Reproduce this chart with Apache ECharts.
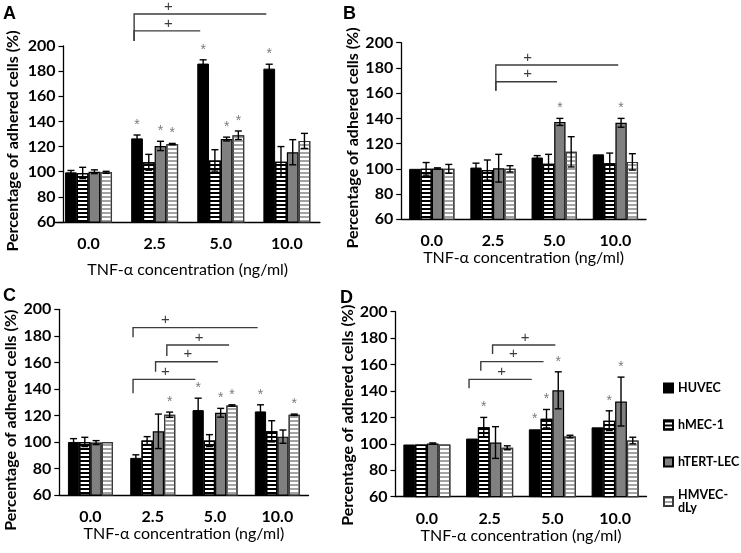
<!DOCTYPE html>
<html><head><meta charset="utf-8">
<script src="https://cdn.jsdelivr.net/npm/echarts@6/dist/echarts.min.js"></script>
<style>html,body{margin:0;padding:0;background:#fff}#c{width:741px;height:553px}</style>
</head><body><div id="c"></div>
<script>
// ---------- DATA ----------
const categories = ['0.0', '2.5', '5.0', '10.0'];
const seriesNames = ['HUVEC', 'hMEC-1', 'hTERT-LEC', 'HMVEC-dLy'];
const yMin = 60, yMax = 200, yStep = 20;
const panelLetters = ['A', 'B', 'C', 'D'];

// rows: HUVEC, hMEC-1, hTERT-LEC, HMVEC-dLy ; columns: categories
const A_means = [[99.5, 126.5, 186, 182], [99, 107.5, 109, 108], [100, 120.5, 126, 115.5], [99.5, 122, 129, 124.5]];
const A_errs  = [[1.5, 2.7, 3, 3.5], [4.5, 6.3, 8.5, 12], [1.5, 3.7, 1.5, 10], [0.8, 0.5, 3.4, 6]];
const A_stars = [[0, 1, 1, 1], [0, 0, 0, 0], [0, 1, 1, 0], [0, 1, 1, 0]];
// brackets: [fromCat, fromSeries, toCat, toSeries, level, dropTo]
const A_brackets = [[1, 0, 2, 0, 212, 204], [1, 0, 3, 0, 225.5, 204]];

const B_means = [[100, 101, 109, 111.5], [100, 99, 104, 104.5], [100.3, 100.5, 137.2, 136.5], [100, 100, 113.5, 105.5]];
const B_errs  = [[0.3, 3.5, 1.5, 0.3], [5, 8, 7.5, 8], [0.5, 11, 2.8, 3.5], [3.5, 2.5, 12, 6.5]];
const B_stars = [[0, 0, 0, 0], [0, 0, 0, 0], [0, 0, 1, 1], [0, 0, 0, 0]];
const B_brackets = [[1, 2, 2, 2, 169, 162], [1, 2, 3, 2, 182.3, 162]];

const C_means = [[100, 88, 124, 123], [100, 101, 101, 108], [99.5, 108, 122, 104], [100, 120.5, 127.5, 120.5]];
const C_errs  = [[2.5, 2.3, 9, 5], [3.5, 3, 4.5, 8], [1.5, 13, 3.3, 5], [0.3, 2, 0.5, 0.5]];
const C_stars = [[0, 0, 1, 1], [0, 0, 0, 0], [0, 0, 1, 0], [0, 1, 1, 1]];
const C_brackets = [[1, 0, 2, 0, 147.2, 136.7], [1, 2, 2, 2, 160.5, 153], [1, 3, 2, 3, 173.1, 164.8], [1, 0, 3, 0, 186.2, 178.9]];

const D_means = [[99.5, 104, 111, 112.5], [99.5, 112.5, 119, 117.5], [100.2, 101, 140.5, 132], [99.5, 97, 105.5, 102.5]];
const D_errs  = [[0.2, 0.3, 0.3, 0.3], [0.2, 7.5, 7, 7.5], [0.5, 12, 14, 18.5], [0.2, 1.5, 1, 2.5]];
const D_stars = [[0, 0, 1, 0], [0, 1, 1, 1], [0, 0, 1, 1], [0, 0, 0, 0]];
const D_brackets = [[1, 0, 2, 0, 148.8, 142], [1, 1, 2, 1, 162.2, 155.4], [1, 2, 2, 2, 174.8, 168]];

// ---------- LAYOUT / STYLE ----------
const FONT = 'Lato, "Open Sans", "DejaVu Sans", sans-serif';
const panels = [
  {means: A_means, errs: A_errs, stars: A_stars, brackets: A_brackets,
   grid: {left: 55.5, top: 46, width: 264.4, height: 176}, gap: 0.29, yOffset: -8, xNameGap: 40, yNameGap: 43, yNamePad: 14,
   title: {left: 3, top: 5}},
  {means: B_means, errs: B_errs, stars: B_stars, brackets: B_brackets,
   grid: {left: 401.2, top: 42.7, width: 244.8, height: 176.6}, gap: 0.26, yOffset: 0, xNameGap: 28, yNameGap: 40, yNamePad: 14,
   title: {left: 343, top: 5}},
  {means: C_means, errs: C_errs, stars: C_stars, brackets: C_brackets,
   grid: {left: 59.3, top: 309.3, width: 249.2, height: 185.7}, gap: 0.277, yOffset: 0, xNameGap: 28.5, yNameGap: 40, yNamePad: 36,
   title: {left: 3, top: 287}},
  {means: D_means, errs: D_errs, stars: D_stars, brackets: D_brackets,
   grid: {left: 395.5, top: 311.7, width: 251, height: 185}, gap: 0.25, yOffset: 0, xNameGap: 29.5, yNameGap: 38, yNamePad: 22,
   title: {left: 340, top: 289}}
];

const barStyles = [
  {color: '#000000', borderColor: '#000000', borderWidth: 1},
  {color: '#ffffff', borderColor: '#000000', borderWidth: 1.2,
   decal: {symbol: 'rect', symbolSize: 1, color: '#000000', dashArrayX: [1, 0], dashArrayY: [2, 2], rotation: 0}},
  {color: '#808080', borderColor: '#000000', borderWidth: 1.2},
  {color: '#ffffff', borderColor: '#3a3a3a', borderWidth: 1.2,
   decal: {symbol: 'rect', symbolSize: 1, color: '#a3a3a3', dashArrayX: [1, 0], dashArrayY: [2, 2], rotation: 0}}
];

function barGeom(api, cat, si, gap, val) {
  const c = api.coord([cat, val]);
  const band = api.size([1, 0])[0];
  const group = band * (1 - gap);
  const w = group / 4;
  const left = c[0] - group / 2 + w * si;
  return {left: left, w: w, cx: left + w / 2, y: c[1], band: band};
}

const chart = echarts.init(document.getElementById('c'), null, {renderer: 'canvas'});
const grids = [], xAxes = [], yAxes = [], series = [], titles = [];

panels.forEach(function (p, gi) {
  grids.push(Object.assign({containLabel: false}, p.grid));
  titles.push({text: panelLetters[gi], left: p.title.left, top: p.title.top, padding: 0,
    textStyle: {fontFamily: '"Liberation Sans", Arial, sans-serif', fontWeight: 'bold', fontSize: 18, color: '#000'}});
  xAxes.push({
    gridIndex: gi, type: 'category', data: categories,
    axisLine: {lineStyle: {color: '#000', width: 1.3}},
    axisTick: {show: false},
    axisLabel: {fontFamily: FONT, fontWeight: 'bold', fontSize: 16, color: '#000', margin: 14},
    name: 'TNF-α concentration (ng/ml)', nameLocation: 'middle', nameGap: p.xNameGap,
    nameTextStyle: {fontFamily: FONT, fontSize: 16, color: '#000'}
  });
  yAxes.push({
    gridIndex: gi, type: 'value', min: yMin, max: yMax, interval: yStep, offset: p.yOffset,
    axisLine: {show: true, lineStyle: {color: '#000', width: 1.3}},
    axisTick: {show: true, length: 5, lineStyle: {color: '#000', width: 1.2}},
    splitLine: {show: false},
    axisLabel: {fontFamily: FONT, fontWeight: 'bold', fontSize: 16, color: '#000', margin: 8},
    name: 'Percentage of adhered cells (%)', nameLocation: 'middle', nameGap: p.yNameGap,
    nameTextStyle: {fontFamily: FONT, fontWeight: 'bold', fontSize: 16, color: '#000', padding: [0, p.yNamePad, 0, 0]}
  });
  seriesNames.forEach(function (nm, si) {
    series.push({
      type: 'bar', name: nm, xAxisIndex: gi, yAxisIndex: gi,
      data: p.means[si], barGap: '0%', barCategoryGap: (p.gap * 100) + '%',
      itemStyle: barStyles[si], emphasis: {disabled: true}, animation: false, z: 2
    });
  });
  // error bars + significance stars
  const ebData = [];
  for (let si = 0; si < 4; si++) {
    for (let c = 0; c < categories.length; c++) {
      ebData.push([c, si, p.means[si][c], p.errs[si][c], p.stars[si][c]]);
    }
  }
  series.push({
    type: 'custom', name: 'err' + gi, xAxisIndex: gi, yAxisIndex: gi, data: ebData, z: 5, animation: false, silent: true,
    encode: {x: 0, y: 2},
    renderItem: function (params, api) {
      const cat = api.value(0), si = api.value(1), m = api.value(2), e = api.value(3), st = api.value(4);
      const g = barGeom(api, cat, si, p.gap, m + e);
      const yLo = api.coord([cat, m - e])[1];
      const yHi = g.y;
      const cap = 3.5;
      const ls = {stroke: '#000', lineWidth: 1.4};
      const kids = [];
      if (e > 0.4) {
        kids.push({type: 'line', shape: {x1: g.cx, y1: yHi, x2: g.cx, y2: yLo}, style: ls});
        kids.push({type: 'line', shape: {x1: g.cx - cap, y1: yHi, x2: g.cx + cap, y2: yHi}, style: ls});
        kids.push({type: 'line', shape: {x1: g.cx - cap, y1: yLo, x2: g.cx + cap, y2: yLo}, style: ls});
      }
      if (st) {
        kids.push({type: 'text', x: g.cx, y: yHi - 10, style: {text: '*', fontSize: 14, fontFamily: '"Liberation Sans", sans-serif', fill: '#7a7a7a', align: 'center', verticalAlign: 'middle'}});
      }
      return {type: 'group', children: kids};
    }
  });
  // significance brackets
  series.push({
    type: 'custom', name: 'br' + gi, xAxisIndex: gi, yAxisIndex: gi, data: p.brackets, z: 6, animation: false, silent: true, clip: false,
    encode: {x: 0, y: 4},
    renderItem: function (params, api) {
      const c0 = api.value(0), s0 = api.value(1), c1 = api.value(2), s1 = api.value(3), lv = api.value(4), dr = api.value(5);
      const a = barGeom(api, c0, s0, p.gap, lv);
      const b = barGeom(api, c1, s1, p.gap, lv);
      const x0 = a.left + a.w * 0.25, x1 = b.left + b.w * 0.25;
      const yL = a.y, yD = api.coord([c0, dr])[1];
      return {type: 'group', children: [
        {type: 'polyline', shape: {points: [[x0, yD], [x0, yL], [x1, yL]]}, style: {stroke: '#3c3c3c', lineWidth: 1.4, fill: null}},
        {type: 'text', x: x0 + a.band * 0.52, y: yL - 7.5, style: {text: '+', fontSize: 15, fontFamily: '"Liberation Sans", sans-serif', fill: '#3c3c3c', align: 'center', verticalAlign: 'middle'}}
      ]};
    }
  });
});

const legendText = {fontFamily: FONT, fontWeight: 'bold', fontSize: 12.5, color: '#000', lineHeight: 16};
chart.setOption({
  backgroundColor: '#ffffff',
  animation: false,
  title: titles,
  grid: grids,
  xAxis: xAxes,
  yAxis: yAxes,
  legend: [
    {data: seriesNames.slice(0, 3), orient: 'vertical', left: 663, top: 380, padding: 0,
     itemWidth: 9, itemHeight: 9, itemGap: 21, icon: 'rect', selectedMode: false, textStyle: legendText},
    {data: [seriesNames[3]], orient: 'vertical', left: 663, top: 482, padding: 0,
     itemWidth: 9, itemHeight: 9, icon: 'rect', selectedMode: false,
     formatter: function (n) { return n.replace('-', '-\n'); },
     textStyle: Object.assign({}, legendText, {lineHeight: 13, padding: [13, 0, 0, 0]})}
  ],
  series: series
});
</script></body></html>
